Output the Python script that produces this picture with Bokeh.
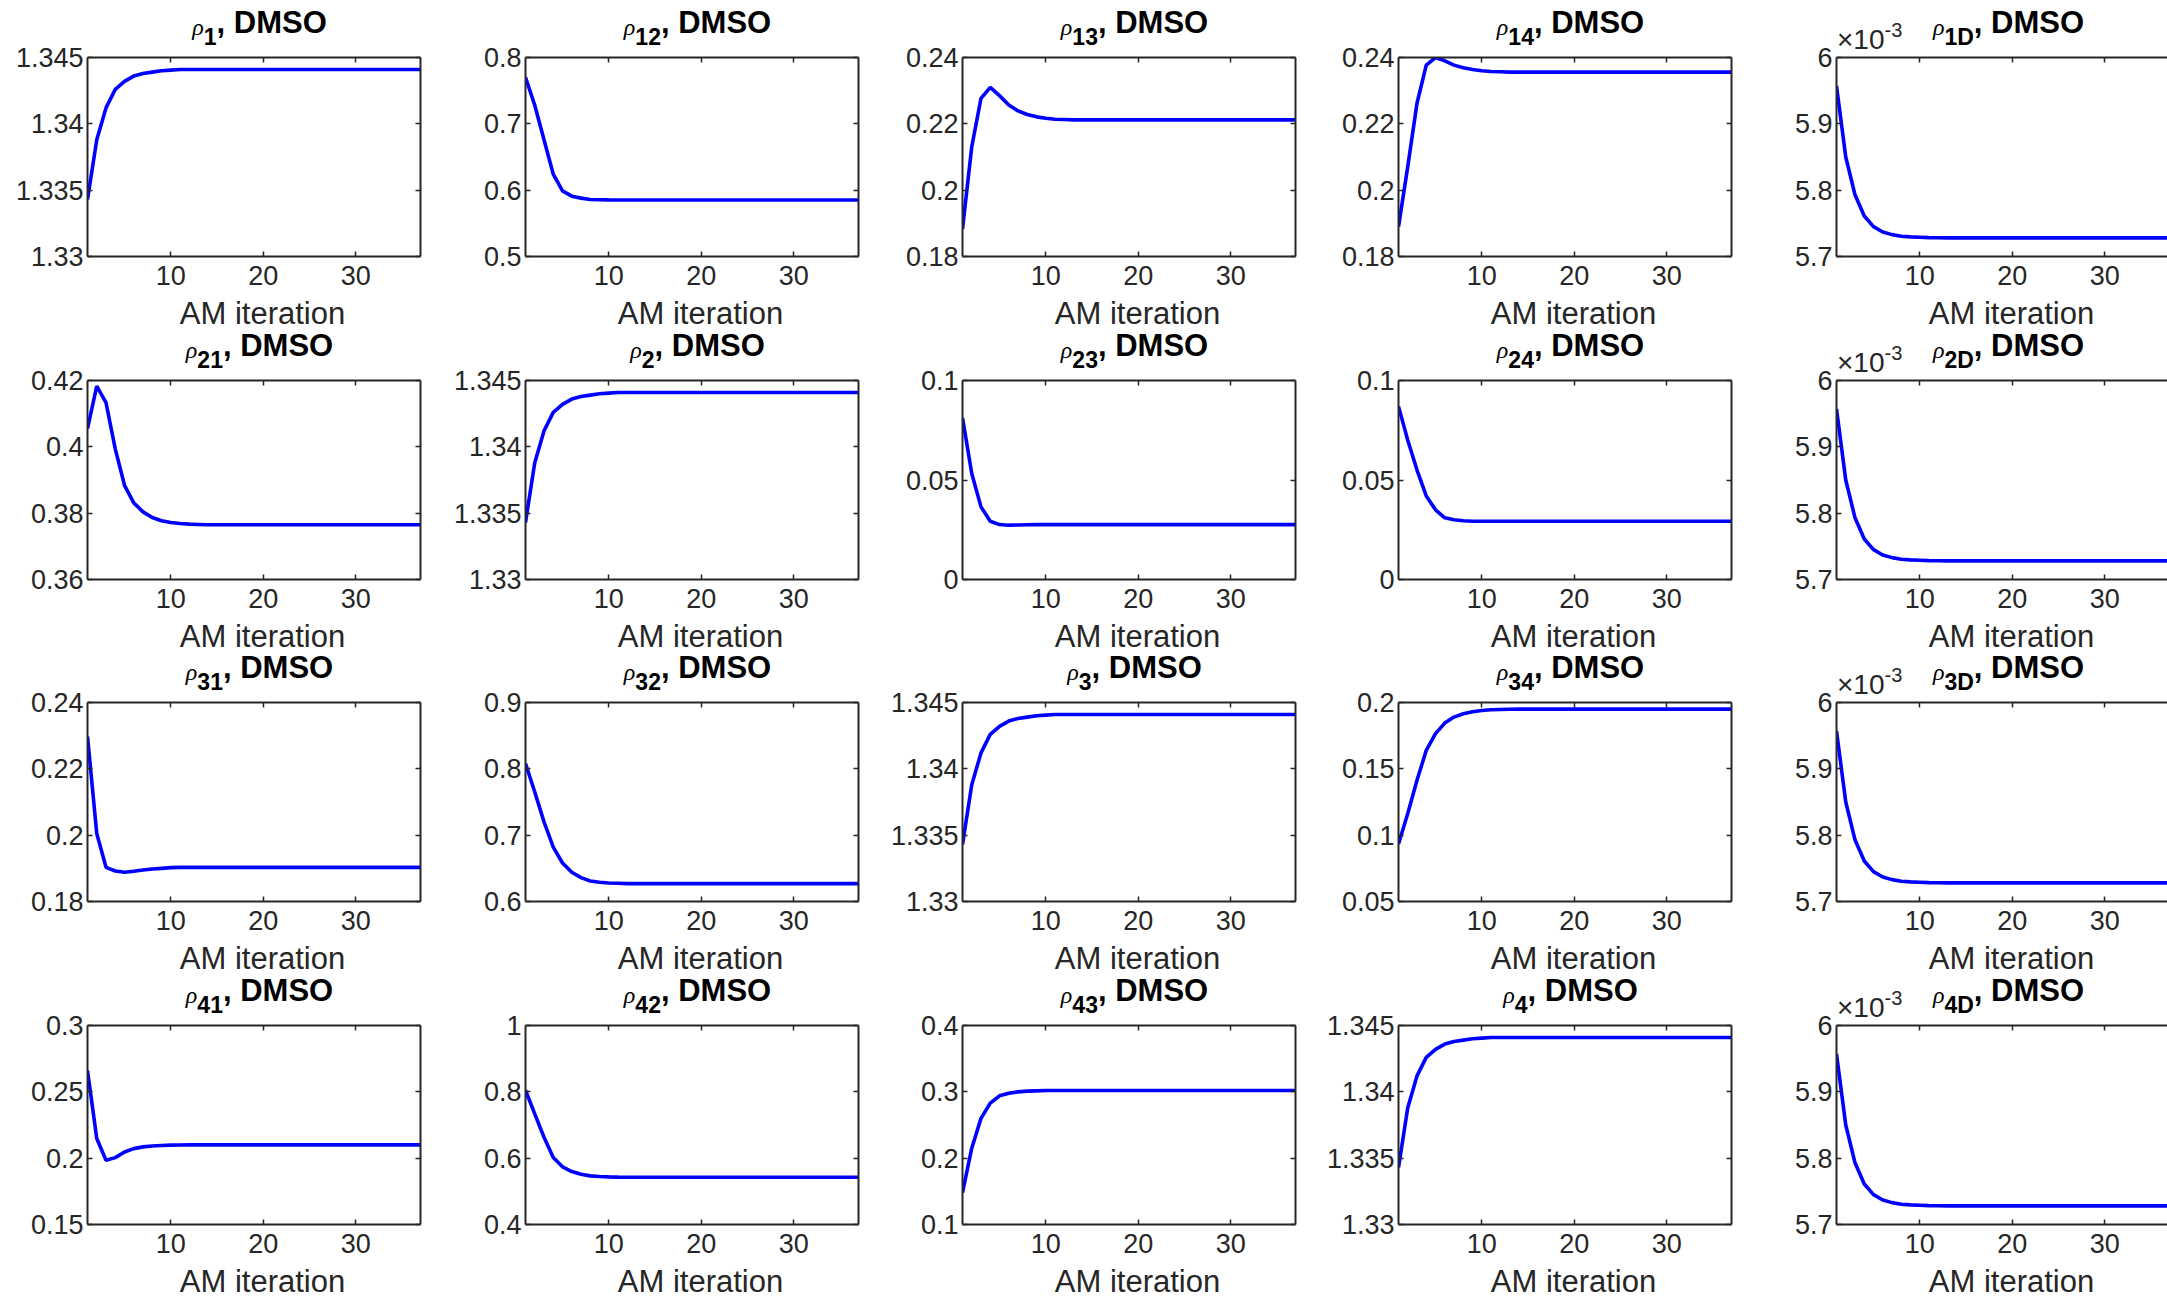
from bokeh.plotting import figure
from bokeh.layouts import column, row
from bokeh.models import Range1d, LinearAxis, FixedTicker, Div, GlobalInlineStyleSheet
from bokeh.embed import file_html
from bokeh.resources import INLINE

# ---------------- data ----------------
iterations = list(range(1, 38))
x_ticks = [10, 20, 30]

rho_1 = [1.3343, 1.3388, 1.3412, 1.3426, 1.3432, 1.3436, 1.3438, 1.3439, 1.3440, 1.34405,
         1.3441, 1.3441, 1.3441, 1.3441, 1.3441, 1.3441, 1.3441, 1.3441, 1.3441, 1.3441,
         1.3441, 1.3441, 1.3441, 1.3441, 1.3441, 1.3441, 1.3441, 1.3441, 1.3441, 1.3441,
         1.3441, 1.3441, 1.3441, 1.3441, 1.3441, 1.3441, 1.3441]
rho_2 = list(rho_1)
rho_3 = list(rho_1)
rho_4 = list(rho_1)

rho_12 = [0.770, 0.728, 0.676, 0.624, 0.599, 0.591, 0.588, 0.586, 0.5855, 0.5853,
          0.5852, 0.5852, 0.5852, 0.5852, 0.5852, 0.5852, 0.5852, 0.5852, 0.5852, 0.5852,
          0.5852, 0.5852, 0.5852, 0.5852, 0.5852, 0.5852, 0.5852, 0.5852, 0.5852, 0.5852,
          0.5852, 0.5852, 0.5852, 0.5852, 0.5852, 0.5852, 0.5852]
rho_13 = [0.1883, 0.2131, 0.2277, 0.2310, 0.2285, 0.2257, 0.2239, 0.2228, 0.2221, 0.2217,
          0.2214, 0.2213, 0.2212, 0.2212, 0.2212, 0.2212, 0.2212, 0.2212, 0.2212, 0.2212,
          0.2212, 0.2212, 0.2212, 0.2212, 0.2212, 0.2212, 0.2212, 0.2212, 0.2212, 0.2212,
          0.2212, 0.2212, 0.2212, 0.2212, 0.2212, 0.2212, 0.2212]
rho_14 = [0.1890, 0.2071, 0.2262, 0.2377, 0.2400, 0.2390, 0.2377, 0.2369, 0.2364, 0.2360,
          0.2358, 0.2357, 0.2356, 0.2356, 0.2356, 0.2356, 0.2356, 0.2356, 0.2356, 0.2356,
          0.2356, 0.2356, 0.2356, 0.2356, 0.2356, 0.2356, 0.2356, 0.2356, 0.2356, 0.2356,
          0.2356, 0.2356, 0.2356, 0.2356, 0.2356, 0.2356, 0.2356]
rho_1D = [0.005957, 0.005850, 0.005793, 0.005761, 0.005745, 0.005737, 0.005733, 0.0057306, 0.0057296, 0.0057291,
          0.0057285, 0.0057282, 0.0057281, 0.0057281, 0.0057281, 0.0057281, 0.0057281, 0.0057281, 0.0057281, 0.0057281,
          0.0057281, 0.0057281, 0.0057281, 0.0057281, 0.0057281, 0.0057281, 0.0057281, 0.0057281, 0.0057281, 0.0057281,
          0.0057281, 0.0057281, 0.0057281, 0.0057281, 0.0057281, 0.0057281, 0.0057281]
rho_2D = list(rho_1D)
rho_3D = list(rho_1D)
rho_4D = list(rho_1D)

rho_21 = [0.4055, 0.4183, 0.4133, 0.3994, 0.3884, 0.3831, 0.3804, 0.3787, 0.3777, 0.3772,
          0.3769, 0.3767, 0.3766, 0.3765, 0.3765, 0.3765, 0.3765, 0.3765, 0.3765, 0.3765,
          0.3765, 0.3765, 0.3765, 0.3765, 0.3765, 0.3765, 0.3765, 0.3765, 0.3765, 0.3765,
          0.3765, 0.3765, 0.3765, 0.3765, 0.3765, 0.3765, 0.3765]
rho_23 = [0.0812, 0.0533, 0.0365, 0.0293, 0.0276, 0.0273, 0.0274, 0.0275, 0.0276, 0.0276,
          0.0276, 0.0276, 0.0276, 0.0276, 0.0276, 0.0276, 0.0276, 0.0276, 0.0276, 0.0276,
          0.0276, 0.0276, 0.0276, 0.0276, 0.0276, 0.0276, 0.0276, 0.0276, 0.0276, 0.0276,
          0.0276, 0.0276, 0.0276, 0.0276, 0.0276, 0.0276, 0.0276]
rho_24 = [0.087, 0.070, 0.055, 0.042, 0.035, 0.031, 0.0300, 0.0295, 0.0293, 0.0293,
          0.0293, 0.0293, 0.0293, 0.0293, 0.0293, 0.0293, 0.0293, 0.0293, 0.0293, 0.0293,
          0.0293, 0.0293, 0.0293, 0.0293, 0.0293, 0.0293, 0.0293, 0.0293, 0.0293, 0.0293,
          0.0293, 0.0293, 0.0293, 0.0293, 0.0293, 0.0293, 0.0293]
rho_31 = [0.2298, 0.2005, 0.1903, 0.1892, 0.1888, 0.1891, 0.1895, 0.1898, 0.1900, 0.1902,
          0.1903, 0.1903, 0.1903, 0.1903, 0.1903, 0.1903, 0.1903, 0.1903, 0.1903, 0.1903,
          0.1903, 0.1903, 0.1903, 0.1903, 0.1903, 0.1903, 0.1903, 0.1903, 0.1903, 0.1903,
          0.1903, 0.1903, 0.1903, 0.1903, 0.1903, 0.1903, 0.1903]
rho_32 = [0.808, 0.765, 0.720, 0.682, 0.658, 0.644, 0.636, 0.631, 0.629, 0.628,
          0.6275, 0.627, 0.627, 0.627, 0.627, 0.627, 0.627, 0.627, 0.627, 0.627,
          0.627, 0.627, 0.627, 0.627, 0.627, 0.627, 0.627, 0.627, 0.627, 0.627,
          0.627, 0.627, 0.627, 0.627, 0.627, 0.627, 0.627]
rho_34 = [0.0933, 0.1163, 0.1414, 0.1639, 0.1765, 0.1845, 0.1890, 0.1915, 0.1930, 0.1940,
          0.1945, 0.1947, 0.1949, 0.1950, 0.1950, 0.1950, 0.1950, 0.1950, 0.1950, 0.1950,
          0.1950, 0.1950, 0.1950, 0.1950, 0.1950, 0.1950, 0.1950, 0.1950, 0.1950, 0.1950,
          0.1950, 0.1950, 0.1950, 0.1950, 0.1950, 0.1950, 0.1950]
rho_41 = [0.2660, 0.2148, 0.1984, 0.2004, 0.2047, 0.2072, 0.2085, 0.2092, 0.2095, 0.2098,
          0.2099, 0.2100, 0.2100, 0.2100, 0.2100, 0.2100, 0.2100, 0.2100, 0.2100, 0.2100,
          0.2100, 0.2100, 0.2100, 0.2100, 0.2100, 0.2100, 0.2100, 0.2100, 0.2100, 0.2100,
          0.2100, 0.2100, 0.2100, 0.2100, 0.2100, 0.2100, 0.2100]
rho_42 = [0.8047, 0.7338, 0.6630, 0.6022, 0.5739, 0.5597, 0.5516, 0.5466, 0.5445, 0.5435,
          0.5428, 0.5425, 0.5425, 0.5425, 0.5425, 0.5425, 0.5425, 0.5425, 0.5425, 0.5425,
          0.5425, 0.5425, 0.5425, 0.5425, 0.5425, 0.5425, 0.5425, 0.5425, 0.5425, 0.5425,
          0.5425, 0.5425, 0.5425, 0.5425, 0.5425, 0.5425, 0.5425]
rho_43 = [0.148, 0.215, 0.260, 0.283, 0.294, 0.298, 0.300, 0.301, 0.3015, 0.302,
          0.302, 0.302, 0.302, 0.302, 0.302, 0.302, 0.302, 0.302, 0.302, 0.302,
          0.302, 0.302, 0.302, 0.302, 0.302, 0.302, 0.302, 0.302, 0.302, 0.302,
          0.302, 0.302, 0.302, 0.302, 0.302, 0.302, 0.302]

# y-axis limits and tick labels per panel kind
ylim_diag, yticks_diag = (1.33, 1.345), ["1.33", "1.335", "1.34", "1.345"]
ylim_12, yticks_12 = (0.5, 0.8), ["0.5", "0.6", "0.7", "0.8"]
ylim_13, yticks_13 = (0.18, 0.24), ["0.18", "0.2", "0.22", "0.24"]
ylim_D, yticks_D = (0.0057, 0.006), ["5.7", "5.8", "5.9", "6"]
yvals_D = [0.0057, 0.0058, 0.0059, 0.006]
ylim_21, yticks_21 = (0.36, 0.42), ["0.36", "0.38", "0.4", "0.42"]
ylim_23, yticks_23 = (0.0, 0.1), ["0", "0.05", "0.1"]
ylim_32, yticks_32 = (0.6, 0.9), ["0.6", "0.7", "0.8", "0.9"]
ylim_34, yticks_34 = (0.05, 0.2), ["0.05", "0.1", "0.15", "0.2"]
ylim_41, yticks_41 = (0.15, 0.3), ["0.15", "0.2", "0.25", "0.3"]
ylim_42, yticks_42 = (0.4, 1.0), ["0.4", "0.6", "0.8", "1"]
ylim_43, yticks_43 = (0.1, 0.4), ["0.1", "0.2", "0.3", "0.4"]

panels = [
    [("1", rho_1, ylim_diag, yticks_diag), ("12", rho_12, ylim_12, yticks_12),
     ("13", rho_13, ylim_13, yticks_13), ("14", rho_14, ylim_13, yticks_13), ("1D", rho_1D, ylim_D, yticks_D)],
    [("21", rho_21, ylim_21, yticks_21), ("2", rho_2, ylim_diag, yticks_diag),
     ("23", rho_23, ylim_23, yticks_23), ("24", rho_24, ylim_23, yticks_23), ("2D", rho_2D, ylim_D, yticks_D)],
    [("31", rho_31, ylim_13, yticks_13), ("32", rho_32, ylim_32, yticks_32),
     ("3", rho_3, ylim_diag, yticks_diag), ("34", rho_34, ylim_34, yticks_34), ("3D", rho_3D, ylim_D, yticks_D)],
    [("41", rho_41, ylim_41, yticks_41), ("42", rho_42, ylim_42, yticks_42),
     ("43", rho_43, ylim_43, yticks_43), ("4", rho_4, ylim_diag, yticks_diag), ("4D", rho_4D, ylim_D, yticks_D)],
]
solvent = "DMSO"
x_label = "AM iteration"

# ---------------- layout / style ----------------
TOTAL_W = 2167
COL_W = [445, 438, 436, 437, 411]
FRAME_L = [87, 525, 962, 1398, 1836]          # absolute frame left edges
BORDER_L = [87, 80, 79, 79, 80]
FRAME_W = [333, 333, 333, 333, 331]
BORDER_R = [25, 25, 24, 25, 0]
FULL_FRAME_W = 333
FIG_TOP, FRAME_H, FIG_BOTTOM = 18, 199, 42
OVERLAP = FIG_TOP - 5                          # figure rows slide up under the text strips
FIG_H = FIG_TOP + FRAME_H + FIG_BOTTOM
DIV_H = [52, 77, 76, 77, 32]
FRAME_T = [57, 380, 702, 1025]                 # absolute frame tops

AX = "#262626"
FONT = "Liberation Sans"
TICK_PX = "27px"
TITLE_PX, SUB_PX, RHO_PX, XLAB_PX = 31, 23, 24, 31
EXP_PX, EXP_SUP_PX = 28, 20


def style_axis(ax, show_labels=True, standoff=4):
    ax.axis_line_color = AX
    ax.axis_line_width = 2
    ax.major_tick_line_color = AX
    ax.major_tick_line_width = 1.5
    ax.major_tick_in = 5
    ax.major_tick_out = 0
    ax.minor_tick_line_color = None
    ax.major_label_text_font = FONT
    if show_labels:
        ax.major_label_text_color = AX
        ax.major_label_standoff = standoff
        ax.major_label_text_font_size = TICK_PX
    else:
        ax.major_label_text_color = None
        ax.major_label_standoff = 0
        ax.major_label_text_font_size = "1px"


def title_html(sub, cx, baseline, with_exp, fl):
    top = baseline - 0.8465 * TITLE_PX
    h = (f'<div style="position:absolute;left:{cx:.1f}px;top:{top:.1f}px;transform:translateX(-50%);'
         f'white-space:nowrap;line-height:1;color:#000000;">'
         f'<span style="font-family:\'Liberation Serif\';font-style:italic;font-size:{RHO_PX}px;position:relative;top:2px;">ρ</span>'
         f'<span style="font-family:\'Liberation Sans\';font-weight:bold;font-size:{SUB_PX}px;position:relative;top:12px;">{sub}</span>'
         f'<span style="font-family:\'Liberation Sans\';font-weight:bold;font-size:{TITLE_PX}px;">, {solvent}</span></div>')
    if with_exp:
        b2 = baseline + 17
        top2 = b2 - 0.8465 * EXP_PX
        h += (f'<div style="position:absolute;left:{fl + 1}px;top:{top2:.1f}px;white-space:nowrap;line-height:1;'
              f'color:{AX};font-family:\'Liberation Sans\';font-size:{EXP_PX}px;">×10'
              f'<span style="font-size:{EXP_SUP_PX}px;position:relative;top:-12px;">-3</span></div>')
    return h


def xlabel_html(cx, baseline):
    top = baseline - 0.8465 * XLAB_PX
    return (f'<div style="position:absolute;left:{cx:.1f}px;top:{top:.1f}px;transform:translateX(-50%);'
            f'white-space:nowrap;line-height:1;color:{AX};font-family:\'Liberation Sans\';font-size:{XLAB_PX}px;">'
            f'{x_label}</div>')


# text strips between the rows of panels
div_tops = []
acc = 0
for i, h in enumerate(DIV_H):
    div_tops.append(acc)
    acc += h + (FIG_H - OVERLAP if i < 4 else 0)

strips = []
for i, h in enumerate(DIV_H):
    items = []
    if i > 0:  # x labels of the row above
        fb = FRAME_T[i - 1] + FRAME_H
        for c in range(5):
            cx = FRAME_L[c] + FULL_FRAME_W / 2 + 9
            items.append(xlabel_html(cx, fb + 68 - div_tops[i]))
    if i < 4:  # titles of this row
        for c in range(5):
            sub = panels[i][c][0]
            cx = FRAME_L[c] + FULL_FRAME_W / 2 + 6
            items.append(title_html(sub, cx, FRAME_T[i] - 24 - div_tops[i], sub.endswith("D"), FRAME_L[c]))
    html = (f'<div style="position:relative;width:{TOTAL_W}px;height:{h}px;overflow:visible;">'
            + "".join(items) + '</div>')
    strips.append(Div(text=html, width=TOTAL_W, height=h, margin=(0, 0, 0, 0)))

fig_rows = []
for r, prow in enumerate(panels):
    figs = []
    for c, (sub, ys, ylim, ylabels) in enumerate(prow):
        x_end = 1 + 36 * FRAME_W[c] / FULL_FRAME_W
        p = figure(width=COL_W[c], height=FIG_H,
                   x_range=Range1d(1, x_end), y_range=Range1d(*ylim),
                   x_axis_location=None, y_axis_location=None,
                   output_backend="svg", toolbar_location=None,
                   min_border_left=BORDER_L[c], min_border_right=BORDER_R[c],
                   min_border_top=FIG_TOP, min_border_bottom=FIG_BOTTOM)
        p.xgrid.visible = False
        p.ygrid.visible = False
        p.outline_line_color = None
        p.background_fill_color = "white"
        p.border_fill_color = None

        yvals = yvals_D if sub.endswith("D") else [float(s) for s in ylabels]
        overrides = {v: s for v, s in zip(yvals, ylabels)}

        left = LinearAxis(ticker=FixedTicker(ticks=yvals), major_label_overrides=overrides)
        style_axis(left, True, 4)
        p.add_layout(left, "left")
        bottom = LinearAxis(ticker=FixedTicker(ticks=x_ticks))
        style_axis(bottom, True, 9)
        p.add_layout(bottom, "below")
        top = LinearAxis(ticker=FixedTicker(ticks=x_ticks))
        style_axis(top, False)
        p.add_layout(top, "above")
        if c < 4:
            right = LinearAxis(ticker=FixedTicker(ticks=yvals))
            style_axis(right, False)
            p.add_layout(right, "right")

        p.line(iterations, ys, line_width=3.6, line_color="#0000FF")
        figs.append(p)
    fig_rows.append(row(*figs, spacing=0, margin=(-OVERLAP, 0, 0, 0)))

children = []
for i in range(4):
    children.append(strips[i])
    children.append(fig_rows[i])
children.append(strips[4])

p = column(*children, spacing=0)
p.stylesheets = [GlobalInlineStyleSheet(css="html, body { overflow: hidden; background: white; }")]

open("out.html", "w").write(file_html(p, INLINE))
